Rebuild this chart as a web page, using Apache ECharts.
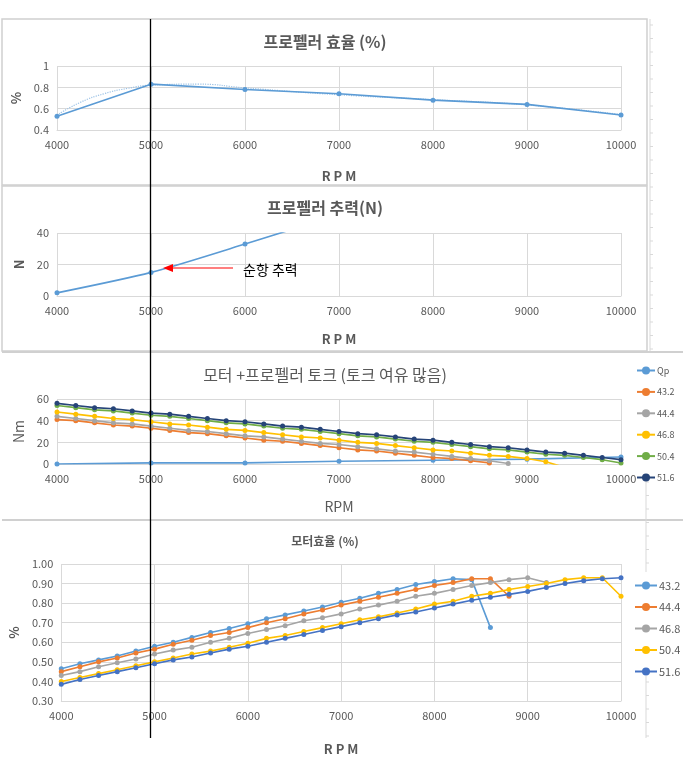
<!DOCTYPE html>
<html>
<head>
<meta charset="utf-8">
<script src="https://cdn.jsdelivr.net/npm/echarts@6/dist/echarts.min.js"></script>
<style>
html,body{margin:0;padding:0;background:#fff;}
#c{width:683px;height:757px;}
</style>
</head>
<body>
<div id="c"></div>
<script>
// ---------- data ----------
const rpmCoarse = [4000, 5000, 6000, 7000, 8000, 9000, 10000];
const propEff = [0.53, 0.83, 0.78, 0.74, 0.68, 0.64, 0.54];
const trendRpm = [4000, 4250, 4500, 4750, 5000, 5500, 6000, 7000, 8000, 9000, 10000];
const propEffTrend = [0.54, 0.66, 0.74, 0.79, 0.82, 0.83, 0.795, 0.73, 0.685, 0.635, 0.545];
const propThrust = [2, 15, 33, 52, 74, 98, 125];
const qpTorque = [0, 1, 1, 2.5, 3.5, 4.5, 6.5];

const rpmFine = [4000, 4200, 4400, 4600, 4800, 5000, 5200, 5400, 5600, 5800, 6000, 6200, 6400, 6600, 6800, 7000,
                 7200, 7400, 7600, 7800, 8000, 8200, 8400, 8600, 8800, 9000, 9200, 9400, 9600, 9800, 10000];

const torque432 = [41, 40, 38, 36, 35, 33, 31, 29, 28, 26, 24, 22, 21, 19, 17, 15, 13, 12, 10, 8, 6, 5, 3, 1];
const torque444 = [44, 42, 40, 38, 37, 35, 33, 31, 30, 28, 26, 25, 23, 21, 19, 18, 16, 14, 12, 11, 9, 7, 5, 3, 0.5];
const torque468 = [48, 46, 44, 42, 41, 39, 37, 36, 34, 32, 31, 29, 27, 25, 24, 22, 20, 19, 17, 15, 13, 12, 10, 8, 7, 5, 2, -3];
const torque504 = [54, 52, 50, 49, 47, 45, 44, 42, 40, 38, 37, 35, 33, 32, 30, 28, 26, 25, 23, 21, 20, 18, 16, 14, 13, 11, 9, 8, 6, 4, 1];
const torque516 = [56, 54, 52, 51, 49, 47, 46, 44, 42, 40, 39, 37, 35, 34, 32, 30, 28, 27, 25, 23, 22, 20, 18, 16, 15, 13, 11, 10, 8, 6, 4];

const eff432 = [0.465, 0.49, 0.51, 0.53, 0.555, 0.58, 0.60, 0.625, 0.65, 0.67, 0.695, 0.72, 0.74, 0.76, 0.78, 0.805,
                0.825, 0.85, 0.87, 0.895, 0.91, 0.925, 0.92, 0.675];
const eff444 = [0.45, 0.475, 0.50, 0.52, 0.545, 0.565, 0.59, 0.61, 0.635, 0.65, 0.675, 0.70, 0.72, 0.745, 0.765, 0.79,
                0.81, 0.83, 0.85, 0.87, 0.89, 0.905, 0.925, 0.925, 0.835];
const eff468 = [0.43, 0.45, 0.475, 0.495, 0.515, 0.54, 0.56, 0.575, 0.60, 0.62, 0.645, 0.665, 0.685, 0.71, 0.725, 0.745,
                0.77, 0.79, 0.81, 0.835, 0.85, 0.87, 0.89, 0.905, 0.92, 0.93, 0.905];
const eff504 = [0.40, 0.42, 0.44, 0.46, 0.48, 0.50, 0.52, 0.54, 0.555, 0.575, 0.595, 0.62, 0.635, 0.655, 0.675, 0.695,
                0.715, 0.73, 0.75, 0.77, 0.795, 0.81, 0.835, 0.85, 0.87, 0.885, 0.90, 0.92, 0.93, 0.93, 0.835];
const eff516 = [0.385, 0.41, 0.43, 0.45, 0.47, 0.49, 0.51, 0.525, 0.545, 0.565, 0.58, 0.60, 0.62, 0.64, 0.66, 0.68,
                0.70, 0.72, 0.74, 0.755, 0.775, 0.795, 0.815, 0.83, 0.845, 0.86, 0.88, 0.90, 0.915, 0.925, 0.93];

// ---------- helpers ----------
const zip = (xs, ys) => ys.map((y, i) => [xs[i], y]);
const FONT = '"Noto Sans CJK KR", "Noto Sans", sans-serif';
const LBL = '#595959';
const GRIDC = '#D9D9D9';

const chart = echarts.init(document.getElementById('c'), null, {renderer: 'canvas'});

const grids = [
  {left: 57, right: 62, top: 66, height: 64},
  {left: 57, right: 62, top: 233, height: 63},
  {left: 57, right: 62, top: 399, height: 65},
  {left: 57, right: 62, top: 564, height: 139}
];

function xAx(gi, name, gap, bold, size) {
  return {
    type: 'value', gridIndex: gi, min: 4000, max: 10000, interval: 1000,
    name: name, nameLocation: 'middle', nameGap: gap,
    nameTextStyle: {color: LBL, fontSize: size, fontWeight: bold ? 'bold' : 'normal', fontFamily: FONT},
    axisLine: {show: true, lineStyle: {color: GRIDC, width: 1}},
    axisTick: {show: false},
    axisLabel: {color: LBL, fontSize: 11, margin: 9, fontFamily: FONT, formatter: v => String(v)},
    splitLine: {show: true, lineStyle: {color: GRIDC, width: 1}}
  };
}
function yAx(gi, min, max, interval, name, bold, size, fmt) {
  return {
    type: 'value', gridIndex: gi, min: min, max: max, interval: interval,
    name: name, nameLocation: 'middle', nameRotate: 90, nameGap: 29,
    nameTextStyle: {color: LBL, fontSize: size, fontWeight: bold ? 'bold' : 'normal', fontFamily: FONT},
    axisLine: {show: false}, axisTick: {show: false},
    axisLabel: {color: LBL, fontSize: 11, margin: 8, fontFamily: FONT, formatter: fmt || (v => String(v))},
    splitLine: {show: true, lineStyle: {color: GRIDC, width: 1}}
  };
}
function lineS(name, gi, data, color, opts) {
  return Object.assign({
    name: name, type: 'line', xAxisIndex: gi, yAxisIndex: gi, data: data,
    symbol: 'circle', symbolSize: 5, clip: true,
    lineStyle: {color: color, width: 1.6}, itemStyle: {color: color},
    emphasis: {disabled: true}, animation: false
  }, opts || {});
}

const series = [
  // panel 1
  lineS('trend', 0, zip(trendRpm, propEffTrend), '#9DC3E6',
        {symbol: 'none', smooth: 0.5, lineStyle: {color: '#9DC3E6', width: 1.2, type: 'dotted'}}),
  lineS('eff', 0, zip(rpmCoarse, propEff), '#5B9BD5'),
  // panel 2
  lineS('thrust', 1, zip(rpmCoarse, propThrust), '#5B9BD5', {smooth: 0.25}),
  // panel 3
  lineS('Qp', 2, zip(rpmCoarse, qpTorque), '#5B9BD5'),
  lineS('43.2', 2, zip(rpmFine, torque432), '#ED7D31'),
  lineS('44.4', 2, zip(rpmFine, torque444), '#A5A5A5'),
  lineS('46.8', 2, zip(rpmFine, torque468), '#FFC000'),
  lineS('50.4', 2, zip(rpmFine, torque504), '#70AD47'),
  lineS('51.6', 2, zip(rpmFine, torque516), '#264478'),
  // panel 4 (zero-width suffix keeps separate legend colors)
  lineS('43.2\u200b', 3, zip(rpmFine, eff432), '#5B9BD5'),
  lineS('44.4\u200b', 3, zip(rpmFine, eff444), '#ED7D31'),
  lineS('46.8\u200b', 3, zip(rpmFine, eff468), '#A5A5A5'),
  lineS('50.4\u200b', 3, zip(rpmFine, eff504), '#FFC000'),
  lineS('51.6\u200b', 3, zip(rpmFine, eff516), '#4472C4')
];

// decorative graphics
const graphics = [];
const panelBox = (x, y, w, h) => graphics.push({type: 'rect', z: -5, shape: {x: x, y: y, width: w, height: h},
  style: {fill: 'none', stroke: '#D0D0D0', lineWidth: 1.5}, silent: true});
panelBox(2, 19, 645, 166);
panelBox(2, 186, 645, 165);
graphics.push({type: 'line', z: -5, shape: {x1: 2, y1: 352, x2: 683, y2: 352}, style: {stroke: '#D0D0D0', lineWidth: 2}});
graphics.push({type: 'line', z: -5, shape: {x1: 2, y1: 520, x2: 683, y2: 520}, style: {stroke: '#D0D0D0', lineWidth: 2}});
// right-hand tick strip artifacts
function tickStrip(x, y1, y2) {
  graphics.push({type: 'line', z: -5, shape: {x1: x, y1: y1, x2: x, y2: y2}, style: {stroke: '#D9D9D9', lineWidth: 1}});
  for (let y = y1 + 6; y < y2; y += 13.5) {
    graphics.push({type: 'line', z: -5, shape: {x1: x, y1: y, x2: x + 3, y2: y}, style: {stroke: '#D9D9D9', lineWidth: 1}});
  }
}
tickStrip(650, 19, 351);
tickStrip(646, 476, 572);
tickStrip(646, 676, 738);

// titles
const titleTxt = (t, y, size, weight) => graphics.push({type: 'text', z: 10, style: {
  text: t, x: 325, y: y, textAlign: 'center', textVerticalAlign: 'middle',
  fill: LBL, font: weight + ' ' + size + 'px ' + FONT}});
titleTxt('프로펠러 효율 (%)', 42, 16, 'bold');
titleTxt('프로펠러 추력(N)', 208, 16, 'bold');
titleTxt('모터 +프로펠러 토크 (토크 여유 많음)', 375, 16, 'normal');
titleTxt('모터효율 (%)', 541, 12, 'bold');

// annotation arrow + text
graphics.push({type: 'line', z: 20, shape: {x1: 233, y1: 268, x2: 171, y2: 268}, style: {stroke: '#FF0000', lineWidth: 1.2}});
graphics.push({type: 'polygon', z: 20, shape: {points: [[163, 268], [173, 264], [173, 272]]}, style: {fill: '#FF0000'}});
graphics.push({type: 'text', z: 20, style: {text: '순항 추력', x: 243, y: 270, textVerticalAlign: 'middle',
  fill: '#000', font: 'normal 14px ' + FONT}});

// black vertical reference line
graphics.push({type: 'line', z: 100, shape: {x1: 150.5, y1: 19, x2: 150.5, y2: 738}, style: {stroke: '#000', lineWidth: 1.3}});

const option = {
  backgroundColor: '#fff',
  animation: false,
  grid: grids,
  xAxis: [
    xAx(0, 'R P M', 40, true, 13),
    xAx(1, 'R P M', 37, true, 13),
    xAx(2, 'RPM', 36, false, 14),
    xAx(3, 'R P M', 42, true, 13)
  ],
  yAxis: [
    yAx(0, 0.4, 1, 0.2, '%', true, 13),
    yAx(1, 0, 40, 20, 'N', true, 13),
    yAx(2, 0, 60, 20, 'Nm', false, 14),
    yAx(3, 0.3, 1.0, 0.1, '%', true, 13, v => v.toFixed(2))
  ],
  legend: [
    {data: ['Qp', '43.2', '44.4', '46.8', '50.4', '51.6'], orient: 'vertical', left: 636, top: 366,
     itemWidth: 18, itemHeight: 10, itemGap: 12.4, selectedMode: false, padding: 0,
     textStyle: {color: LBL, fontSize: 9, fontFamily: FONT, padding: [0, 0, 0, -3]}},
    {data: ['43.2\u200b', '44.4\u200b', '46.8\u200b', '50.4\u200b', '51.6\u200b'], orient: 'vertical', left: 634, top: 580,
     itemWidth: 22, itemHeight: 10, itemGap: 10.5, selectedMode: false, padding: 0,
     textStyle: {color: LBL, fontSize: 11, fontFamily: FONT, padding: [0, 0, 0, -3]}}
  ],
  graphic: graphics,
  series: series
};
chart.setOption(option);
</script>
</body>
</html>
